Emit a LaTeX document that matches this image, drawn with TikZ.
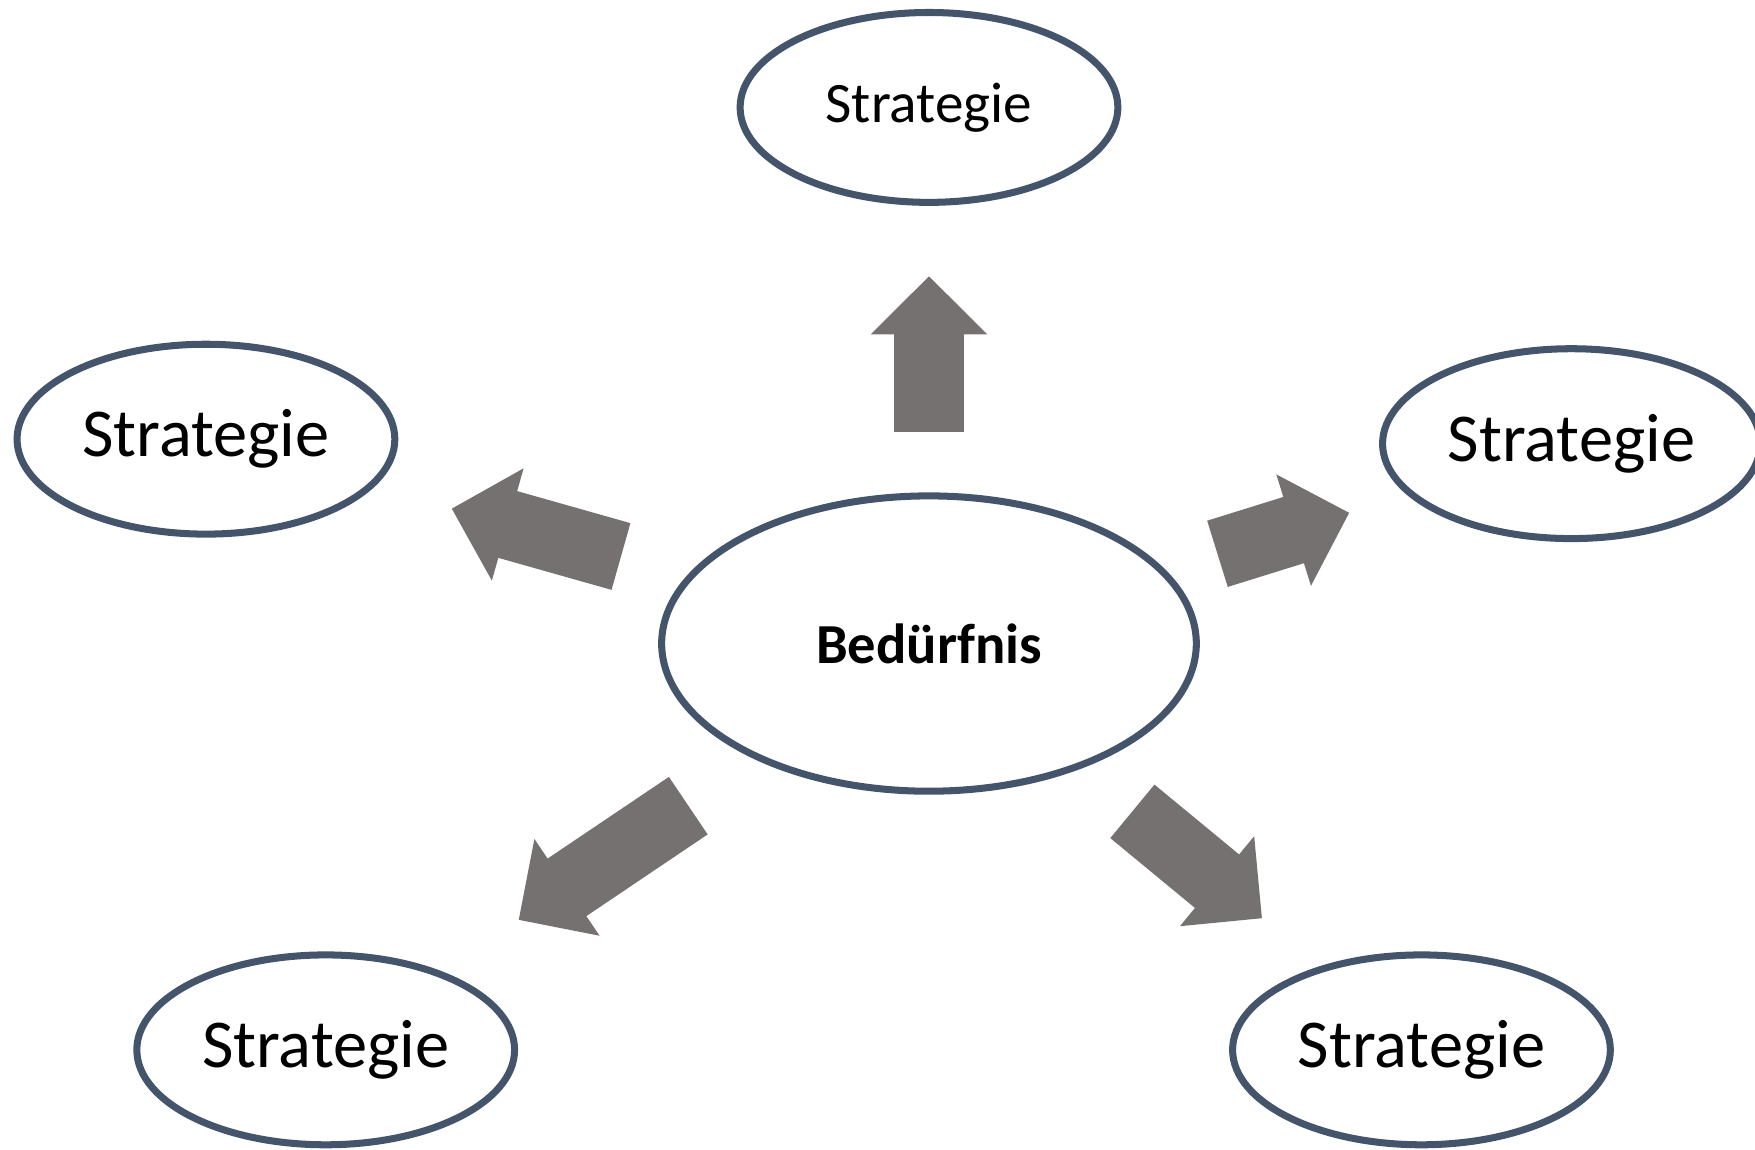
\documentclass[tikz,border=0pt]{standalone}
\usepackage{fontspec}
\setmainfont{Carlito}
\usetikzlibrary{arrows.meta}
\usetikzlibrary{shapes.geometric}
\usetikzlibrary{calc}

\definecolor{stratblue}{HTML}{44546A}
\definecolor{arrowgray}{HTML}{767171}

\tikzset{
    strat/.style={ellipse, draw=stratblue, line width=2pt, fill=white,
        minimum width=3.78cm, minimum height=1.90cm, inner sep=0pt,
        font=\fontsize{19.5}{23}\selectfont},
    blockarrow/.style={draw=arrowgray, line width=0.694cm,
        -{Triangle[length=0.582cm, width=1.164cm, line width=0.6pt]}},
}

\begin{document}
\begin{tikzpicture}[x=0.011193cm, y=0.011193cm]
    \useasboundingbox (0,0) rectangle (1568,1027.4);

    % Bedürfnis in der Mitte
    \node[strat, minimum width=5.35cm, minimum height=2.955cm,
        font=\fontsize{16.1}{19}\selectfont\bfseries] (need) at (830,452.4) {Bedürfnis};

    % Strategien rundherum
    \node[strat, font=\fontsize{16.3}{19}\selectfont] (topstrat) at (830,931.4) {Strategie};
    \node[strat] (leftstrat) at (184,635) {Strategie};
    \node[strat] (rightstrat) at (1404,631) {Strategie};
    \node[strat] (botleftstrat) at (291,89.4) {Strategie};
    \node[strat] (botrightstrat) at (1270,89.4) {Strategie};

    % Pfeile von der Mitte nach aussen
    \foreach \s/\a/\b in {topstrat/0.395/0.685, leftstrat/0.426/0.660,
        rightstrat/0.449/0.654, botleftstrat/0.399/0.680, botrightstrat/0.413/0.676}{
            \draw[blockarrow] ($(need)!\a!(\s)$) -- ($(need)!\b!(\s)$);
        }
\end{tikzpicture}
\end{document}
